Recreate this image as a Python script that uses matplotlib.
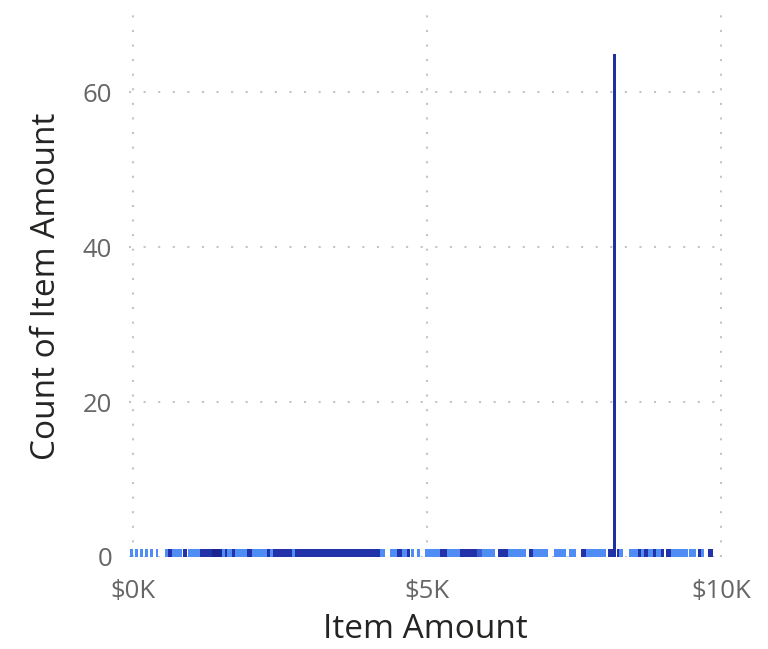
import matplotlib
matplotlib.use("Agg")
import matplotlib.pyplot as plt
from matplotlib.ticker import FuncFormatter

# runs of count-1 columns along the axis: (start $, end $, shade)
runs = [
    (-50, 0, "L"), (34, 85, "L"), (119, 170, "L"), (204, 256, "L"), (290, 341, "L"),
    (400, 426, "L"), (545, 596, "L"), (596, 665, "D"), (665, 835, "L"), (852, 920, "D"),
    (937, 1142, "L"), (1142, 1346, "D"), (1346, 1517, "X"), (1517, 1568, "L"),
    (1568, 1602, "D"), (1602, 1687, "L"), (1687, 1738, "D"), (1738, 1943, "L"),
    (1943, 2028, "D"), (2028, 2283, "L"), (2283, 2334, "D"), (2334, 2386, "L"),
    (2386, 2709, "D"), (2709, 2760, "L"), (2760, 4209, "D"), (4209, 4294, "L"),
    (4379, 4499, "L"), (4499, 4584, "D"), (4584, 4669, "L"), (4669, 4720, "D"),
    (4737, 4788, "L"), (4839, 4890, "L"), (4976, 5231, "L"), (5231, 5351, "D"),
    (5351, 5572, "L"), (5572, 5862, "D"), (5862, 5947, "M"), (5947, 6168, "L"),
    (6220, 6390, "D"), (6390, 6680, "L"), (6731, 6799, "D"), (6799, 7055, "L"),
    (7157, 7361, "L"), (7413, 7532, "L"), (7617, 7702, "D"), (7702, 8043, "L"),
    (8077, 8162, "D"), (8162, 8196, "L"), (8230, 8264, "D"), (8264, 8333, "L"),
    (8435, 8588, "L"), (8588, 8639, "D"), (8639, 8690, "L"), (8690, 8759, "D"),
    (8759, 8844, "L"), (8844, 8895, "D"), (8895, 8980, "L"), (8980, 9031, "D"),
    (9065, 9150, "D"), (9150, 9440, "L"), (9457, 9576, "L"), (9610, 9661, "D"),
    (9661, 9712, "L"), (9781, 9866, "D"),
]
run_count = 1

# the one tall column
peak_amount = 8200
peak_count = 65

shade_color = {"L": "#4F8DF5", "M": "#3B5FD0", "D": "#2233A8", "X": "#1B2590"}

fig = plt.figure(figsize=(7.68, 6.49), dpi=100)
ax = fig.add_axes([129 / 768, 92 / 649, 593 / 768, 542 / 649])

for s, e, sh in runs:
    ax.bar(s, run_count, width=e - s, align="edge", color=shade_color[sh], linewidth=0, zorder=3)

ax.bar(peak_amount, peak_count, width=50, color="#2030A0", linewidth=0, zorder=4)

ax.set_xlim(-60, 10020)
ax.set_ylim(0, 70)
ax.set_xticks([0, 5000, 10000])
ax.set_yticks([0, 20, 40, 60])
ax.xaxis.set_major_formatter(FuncFormatter(lambda v, p: "$%dK" % round(v / 1000)))

ax.grid(True, linestyle=(0, (1, 6)), color="#C4C4C4", linewidth=1.5, zorder=0)
for sp in ax.spines.values():
    sp.set_visible(False)
ax.tick_params(length=0, labelsize=18.5, labelcolor="#666666")
ax.tick_params(axis="x", pad=16)
ax.tick_params(axis="y", pad=12)
for lab in ax.get_xticklabels() + ax.get_yticklabels():
    lab.set_family("Open Sans")

ax.set_xlabel("Item Amount", fontsize=24, color="#252423", family="Open Sans", labelpad=6)
ax.set_ylabel("Count of Item Amount", fontsize=24, color="#252423", family="Open Sans", labelpad=14)

fig.savefig("out.png", dpi=100)
